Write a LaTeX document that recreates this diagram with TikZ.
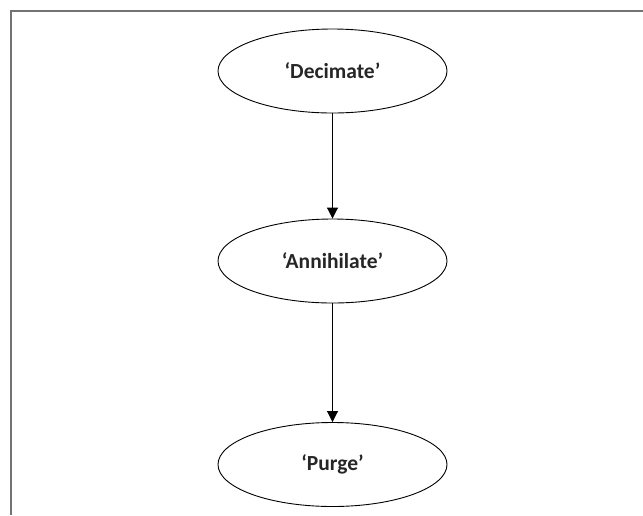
\documentclass[tikz,border=0pt]{standalone}
\usepackage{fontspec}
\setmainfont{Carlito}
\usepackage{tikz}
\usetikzlibrary{shapes.geometric,arrows.meta}
\definecolor{framegray}{rgb}{0.45,0.45,0.45}
\definecolor{textgray}{rgb}{0.15,0.15,0.15}

\begin{document}
\begin{tikzpicture}[x=1pt, y=-1pt,
  every node/.style={ellipse, draw, line width=0.9pt, minimum width=229pt, minimum height=84pt, inner sep=0pt, text=textgray, font=\fontsize{21.5}{25}\selectfont\bfseries}]
  \useasboundingbox (0,0) rectangle (643,515);

  % frame (top and left edge only)
  \draw[framegray, line width=1.5pt] (11,515) -- (11,11) -- (643,11);

  % stages, top to bottom
  \node (decimate)   at (332.5,71)    {‘Decimate’};
  \node (annihilate) at (332.5,261)   {‘Annihilate’};
  \node (purge)      at (332.5,464.5) {‘Purge’};

  % arrows between the stages
  \draw[line width=0.9pt, -{Triangle[width=11pt,length=11pt]}] (decimate) -- (annihilate);
  \draw[line width=0.9pt, -{Triangle[width=11pt,length=11pt]}] (annihilate) -- (purge);

\end{tikzpicture}
\end{document}
